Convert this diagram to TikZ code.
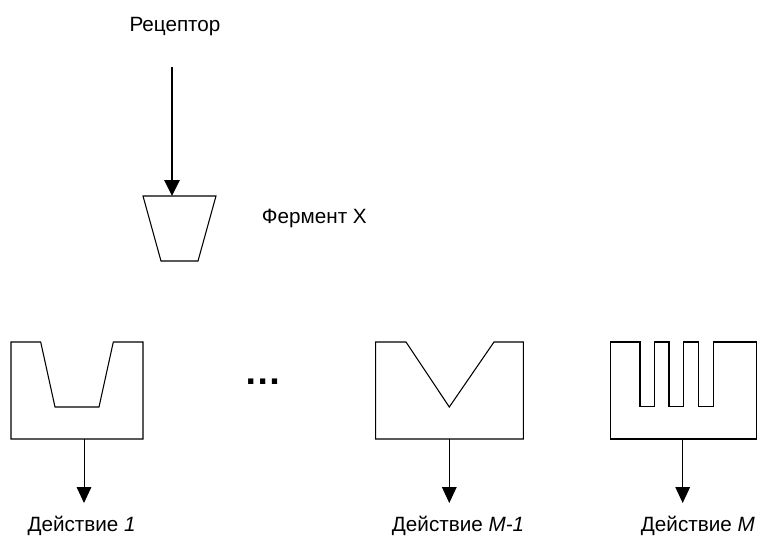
\documentclass[tikz,border=0pt]{standalone}
\usepackage{fontspec}
\setmainfont{Liberation Sans}
\usetikzlibrary{arrows.meta}
\begin{document}
\begin{tikzpicture}[x=0.75pt,y=-0.75pt,
  lbl/.style={inner sep=0pt,anchor=base west,font=\fontsize{15.5}{18}\selectfont},
  outline/.style={draw=black,line width=0.8pt,line join=miter},
  bigarrow/.style={draw=black,line width=1.4pt,-{Triangle[width=11.5pt,length=12pt]}},
  smallarrow/.style={draw=black,line width=0.7pt,-{Triangle[width=11pt,length=12pt]}}]
\useasboundingbox (0,0) rectangle (758,536);
% receptor and enzyme
\node[lbl] (rec) at (129.3,31.7) {Рецептор};
\coordinate (recout) at (172,67);
\draw[outline] (143,196) -- (216,196) -- (198,261) -- (161,261) -- cycle;
\coordinate (enzin) at (172,196);
\draw[bigarrow] (recout) -- (enzin);
\node[lbl] (enz) at (261.7,223.3) {Фермент X};
% box 1
\draw[outline] (11,342) -- (40.7,342) -- (55,407) -- (99,407) -- (113.3,342) -- (143,342) -- (143,439) -- (11,439) -- cycle;
\coordinate (b1out) at (84,439);
\coordinate (a1) at (84,503);
\draw[smallarrow] (b1out) -- (a1);
\node[lbl] (l1) at (27.3,531.7) {Действие \textit{1}};
% dots
\node[inner sep=0pt,anchor=base,font=\fontsize{28}{30}\selectfont\bfseries] (dots) at (263,384) {…};
% box M-1
\draw[outline] (375.7,342) -- (406,342) -- (449.3,407) -- (494,342) -- (523.3,342) -- (523.3,439) -- (375.7,439) -- cycle;
\coordinate (b2out) at (449.3,439);
\coordinate (a2) at (449.3,503);
\draw[smallarrow] (b2out) -- (a2);
\node[lbl] (l2) at (391.7,531.7) {Действие \textit{M-1}};
% box M
\draw[outline] (610.5,342) -- (640,342) -- (640,406.5) -- (654.3,406.5) -- (654.3,342)
  -- (669,342) -- (669,406.5) -- (683.3,406.5) -- (683.3,342)
  -- (698.3,342) -- (698.3,406.5) -- (713.3,406.5) -- (713.3,342)
  -- (756.8,342) -- (756.8,439) -- (610.5,439) -- cycle;
\coordinate (b3out) at (682.7,439);
\coordinate (a3) at (682.7,503);
\draw[smallarrow] (b3out) -- (a3);
\node[lbl] (l3) at (640.7,531.7) {Действие \textit{M}};
\end{tikzpicture}
\end{document}
